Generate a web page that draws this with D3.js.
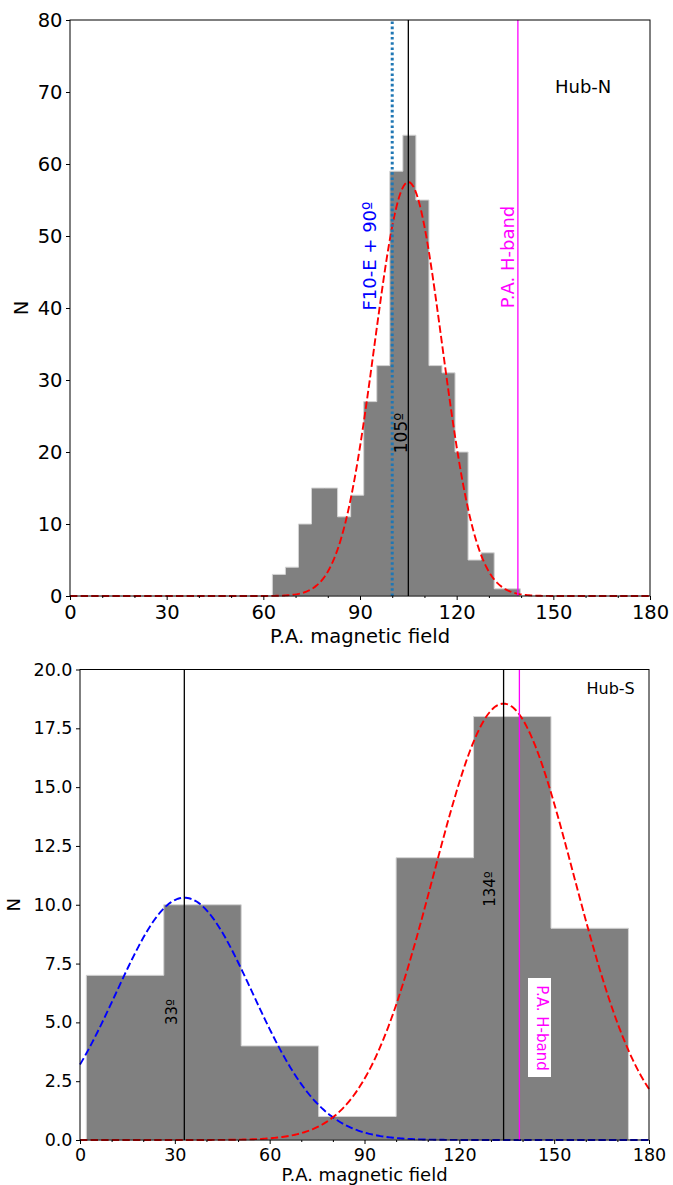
<!DOCTYPE html>
<html><head><meta charset="utf-8">
<script src="https://cdn.jsdelivr.net/npm/d3@7/dist/d3.min.js"></script>
<style>
body{margin:0;background:#fff}
svg{display:block}
text{font-family:"DejaVu Sans",sans-serif}
</style>
</head><body>
<svg id="c" width="673" height="1185"></svg>
<script>
// ---------- DATA ----------
// Top panel: Hub-N histogram of P.A. magnetic field
const topBinEdges = [62.8, 66.85, 70.9, 74.95, 79.0, 83.05, 87.1, 91.15, 95.2, 99.25,
                     103.3, 107.35, 111.4, 115.45, 119.5, 123.55, 127.6, 131.65, 135.7, 139.75];
const topCounts   = [3, 4, 10, 15, 15, 11, 14, 27, 32, 59, 64, 55, 32, 31, 20, 5, 6, 1, 1];
// Gaussian fit: [amplitude, mean, sigma]
const topFit = [57.5, 105, 10.5];
const topXTicks = [0, 30, 60, 90, 120, 150, 180];
const topYTicks = [0, 10, 20, 30, 40, 50, 60, 70, 80];
const topVLines = [
  {x: 100, kind: "f10"},
  {x: 105, kind: "peak"},
  {x: 139, kind: "hband"}
];
const topLabels = ["F10-E + 90º", "105º", "P.A. H-band", "Hub-N"];

// Bottom panel: Hub-S histogram
const botBinEdges = [2.0, 26.5, 51.0, 75.5, 100.0, 124.5, 149.0, 173.5];
const botCounts   = [7, 10, 4, 1, 12, 18, 9];
const botFitBlue  = [10.3, 33, 21.6];
const botFitRed   = [18.55, 134, 22.2];
const botXTicks = [0, 30, 60, 90, 120, 150, 180];
const botYTicks = [0, 2.5, 5, 7.5, 10, 12.5, 15, 17.5, 20];
const botVLines = [
  {x: 33, kind: "peak"},
  {x: 134, kind: "peak"},
  {x: 139, kind: "hband"}
];
const botLabels = ["33º", "134º", "P.A. H-band", "Hub-S"];

const xMinorTicks = [10,20,40,50,70,80,100,110,130,140,160,170];

// ---------- DRAW ----------
const svg = d3.select("#c");

function gaussPoints(p){
  const pts = [];
  for (let v = 0; v <= 180.0001; v += 0.5) pts.push([v, p[0]*Math.exp(-((v-p[1])**2)/(2*p[2]*p[2]))]);
  return pts;
}

function panel(cfg){
  const g = svg.append("g");
  const x = d3.scaleLinear().domain([0,180]).range([cfg.left, cfg.right]);
  const y = d3.scaleLinear().domain([0, cfg.ymax]).range([cfg.bottom, cfg.top]);

  // histogram as stepfilled
  const pts = cfg.counts.map((c,i)=>[cfg.edges[i], c]);
  pts.push([cfg.edges[cfg.edges.length-1], cfg.counts[cfg.counts.length-1]]);
  const area = d3.area().x(d=>x(d[0])).y0(y(0)).y1(d=>y(d[1])).curve(d3.curveStepAfter);
  g.append("path").attr("d", area(pts)).attr("fill", "#808080")
    .attr("stroke", "#d4d4d4").attr("stroke-width", 1);

  // fits
  const line = d3.line().x(d=>x(d[0])).y(d=>y(d[1]));
  cfg.fits.forEach(f=>{
    g.append("path").attr("d", line(gaussPoints(f.p))).attr("fill","none")
      .attr("stroke", f.color).attr("stroke-width", 1.9).attr("stroke-dasharray", "7.4,3.2");
  });

  // vertical lines
  cfg.vlines.forEach(v=>{
    const l = g.append("line").attr("x1", x(v.x)).attr("x2", x(v.x))
      .attr("y1", y(0)).attr("y2", y(cfg.ymax));
    if (v.kind === "f10") l.attr("stroke", "#1f77b4").attr("stroke-width", 3).attr("stroke-dasharray", "2.6,2.6");
    else if (v.kind === "peak") l.attr("stroke", "#000").attr("stroke-width", 1.3);
    else l.attr("stroke", "#ff00ff").attr("stroke-width", 1.3);
  });

  // axes
  const ax = g.append("g").attr("transform", `translate(0,${cfg.bottom})`)
    .call(d3.axisBottom(x).tickValues(cfg.xticks).tickSize(4).tickPadding(cfg.xpad).tickFormat(d3.format("d")));
  const axm = g.append("g").attr("transform", `translate(0,${cfg.bottom})`)
    .call(d3.axisBottom(x).tickValues(xMinorTicks).tickSize(2).tickFormat(""));
  const ay = g.append("g").attr("transform", `translate(${cfg.left},0)`)
    .call(d3.axisLeft(y).tickValues(cfg.yticks).tickSize(4).tickPadding(3.5).tickFormat(cfg.yfmt));
  [ax, axm, ay].forEach(a=>{
    a.select(".domain").remove();
    a.selectAll("line").attr("stroke","#000").attr("stroke-width",1);
    a.selectAll("text").attr("font-size", cfg.tickFont).attr("fill","#000")
      .style("font-family", '"DejaVu Sans",sans-serif');
  });
  // frame
  g.append("rect").attr("x", cfg.left).attr("y", cfg.top)
    .attr("width", cfg.right-cfg.left).attr("height", cfg.bottom-cfg.top)
    .attr("fill","none").attr("stroke","#000").attr("stroke-width",1);

  // axis labels
  g.append("text").attr("x", (cfg.left+cfg.right)/2).attr("y", cfg.xlabY)
    .attr("text-anchor","middle").attr("font-size", cfg.labFont).text("P.A. magnetic field");
  g.append("text").attr("transform", `translate(${cfg.ylabX},${(cfg.top+cfg.bottom)/2}) rotate(-90)`)
    .attr("text-anchor","middle").attr("font-size", cfg.labFont).text("N");
  return {g, x, y};
}

// top panel
const T = panel({left:70, right:650, top:20, bottom:596, ymax:80,
  edges: topBinEdges, counts: topCounts,
  fits: [{p: topFit, color: "#ff0000"}],
  vlines: topVLines, xticks: topXTicks, yticks: topYTicks, yfmt: d3.format("d"),
  tickFont: 19.5, labFont: 19.5, xpad: 5, xlabY: 643, ylabX: 28});

T.g.append("text").attr("transform", `translate(${T.x(100)-16},256) rotate(-90)`)
  .attr("text-anchor","middle").attr("font-size", 18).attr("fill","#0000ff").text(topLabels[0]);
T.g.append("text").attr("transform", `translate(${T.x(105)-1},433) rotate(-90)`)
  .attr("text-anchor","middle").attr("font-size", 17).attr("fill","#000").text(topLabels[1]);
T.g.append("text").attr("transform", `translate(${T.x(139)-4},257) rotate(-90)`)
  .attr("text-anchor","middle").attr("font-size", 18).attr("fill","#ff00ff").text(topLabels[2]);
T.g.append("text").attr("x", 555).attr("y", 92.5)
  .attr("font-size", 18).attr("fill","#000").text(topLabels[3]);

// bottom panel
const B = panel({left:80, right:649, top:669.5, bottom:1140, ymax:20,
  edges: botBinEdges, counts: botCounts,
  fits: [{p: botFitBlue, color: "#0000ff"}, {p: botFitRed, color: "#ff0000"}],
  vlines: botVLines, xticks: botXTicks, yticks: botYTicks, yfmt: d3.format(".1f"),
  tickFont: 17.5, labFont: 18, xpad: 5, xlabY: 1181, ylabX: 20});

B.g.append("text").attr("transform", `translate(${B.x(33)-7},1012) rotate(-90)`)
  .attr("text-anchor","middle").attr("font-size", 15).attr("fill","#000").text(botLabels[0]);
B.g.append("text").attr("transform", `translate(${B.x(134)-9},889) rotate(-90)`)
  .attr("text-anchor","middle").attr("font-size", 15).attr("fill","#000").text(botLabels[1]);
// boxed H-band label
B.g.append("rect").attr("x", 528).attr("y", 978).attr("width", 23).attr("height", 99).attr("fill","#fff");
B.g.append("text").attr("transform", `translate(536.5,1028) rotate(90)`)
  .attr("text-anchor","middle").attr("font-size", 15).attr("fill","#ff00ff").text(botLabels[2]);
B.g.append("text").attr("x", 586.5).attr("y", 694)
  .attr("font-size", 16).attr("fill","#000").text(botLabels[3]);
</script>
</body></html>
